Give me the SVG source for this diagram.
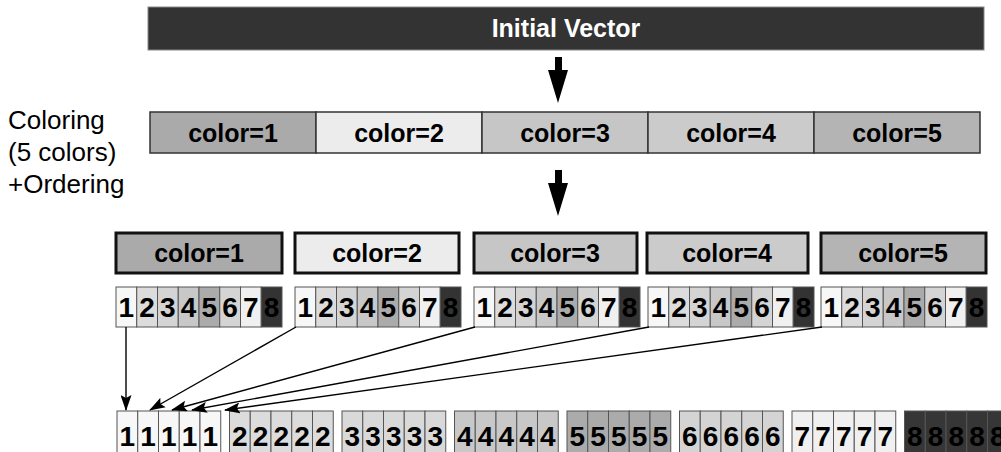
<svg xmlns="http://www.w3.org/2000/svg" width="1001" height="452" viewBox="0 0 1001 452">
<defs>
<marker id="ah" markerUnits="userSpaceOnUse" markerWidth="16" markerHeight="11" refX="15" refY="5.5" orient="auto"><path d="M0,0 L16,5.5 L0,11 L3,5.5 z" fill="#000"/></marker>
<style>
.t{font-family:"Liberation Sans",Arial,sans-serif;font-weight:bold;text-anchor:middle}
.lab{font-family:"Liberation Sans",Arial,sans-serif;font-size:26px}
.seg{stroke:#333;stroke-width:1.5}
.box{stroke:#111;stroke-width:3}
.c{stroke:#555;stroke-width:1}
.d{font-family:"Liberation Sans",Arial,sans-serif;font-weight:bold;font-size:28px;text-anchor:middle}
.conn{stroke:#000;stroke-width:1.4;fill:none;marker-end:url(#ah)}
</style>
</defs>
<rect width="1001" height="452" fill="#fff"/>
<g id="initial-vector">
<rect x="148" y="7" width="836" height="43" fill="#333" stroke="#888" stroke-width="1"/>
<text class="t" x="566" y="37" font-size="25" fill="#fff">Initial Vector</text>
</g>
<g id="big-arrows">
<path d="M555,57 h7 v13 h6 l-10,33 l-10,-33 h7 z" fill="#000"/>
<path d="M555,170 h7 v13 h6 l-10,33 l-10,-33 h7 z" fill="#000"/>
</g>
<g id="label">
<text class="lab" x="8" y="129">Coloring</text>
<text class="lab" x="8" y="161">(5 colors)</text>
<text class="lab" x="8" y="193">+Ordering</text>
</g>
<g id="color-row">
<rect class="seg" x="150" y="112" width="166" height="41" fill="#aaa"/>
<rect class="seg" x="316" y="112" width="166" height="41" fill="#ececec"/>
<rect class="seg" x="482" y="112" width="166" height="41" fill="#c6c6c6"/>
<rect class="seg" x="648" y="112" width="166" height="41" fill="#cbcbcb"/>
<rect class="seg" x="814" y="112" width="166" height="41" fill="#b4b4b4"/>
<g class="t" font-size="25">
<text x="233" y="142">color=1</text>
<text x="399" y="142">color=2</text>
<text x="565" y="142">color=3</text>
<text x="731" y="142">color=4</text>
<text x="897" y="142">color=5</text>
</g>
</g>
<g id="box1"><rect class="box" x="116" y="233" width="166" height="40" fill="#aaa"/><text class="t" x="199" y="262" font-size="25">color=1</text></g>
<g id="box2"><rect class="box" x="295" y="233" width="164" height="40" fill="#ececec"/><text class="t" x="377" y="262" font-size="25">color=2</text></g>
<g id="box3"><rect class="box" x="474" y="233" width="163" height="40" fill="#c6c6c6"/><text class="t" x="555" y="262" font-size="25">color=3</text></g>
<g id="box4"><rect class="box" x="647" y="233" width="161" height="40" fill="#cbcbcb"/><text class="t" x="727" y="262" font-size="25">color=4</text></g>
<g id="box5"><rect class="box" x="821" y="233" width="165" height="40" fill="#b4b4b4"/><text class="t" x="903" y="262" font-size="25">color=5</text></g>
<defs>
<g id="cells8">
<rect class="c" x="0" y="0" width="20.75" height="40" fill="#f7f7f7"/>
<rect class="c" x="20.75" y="0" width="20.75" height="40" fill="#dcdcdc"/>
<rect class="c" x="41.5" y="0" width="20.75" height="40" fill="#d4d4d4"/>
<rect class="c" x="62.25" y="0" width="20.75" height="40" fill="#c8c8c8"/>
<rect class="c" x="83" y="0" width="20.75" height="40" fill="#ababab"/>
<rect class="c" x="103.75" y="0" width="20.75" height="40" fill="#d4d4d4"/>
<rect class="c" x="124.5" y="0" width="20.75" height="40" fill="#f0f0f0"/>
<rect class="c" x="145.25" y="0" width="20.75" height="40" fill="#333"/>
<text class="d" x="10.4" y="30">1</text>
<text class="d" x="31.1" y="30">2</text>
<text class="d" x="51.9" y="30">3</text>
<text class="d" x="72.6" y="30">4</text>
<text class="d" x="93.4" y="30">5</text>
<text class="d" x="114.1" y="30">6</text>
<text class="d" x="134.9" y="30">7</text>
<text class="d" x="155.6" y="30">8</text>
</g>
</defs>
<g id="cells1"><use href="#cells8" x="116" y="287"/></g>
<g id="cells2"><use href="#cells8" x="295" y="287"/></g>
<g id="cells3"><use href="#cells8" x="474" y="287"/></g>
<g id="cells4"><use href="#cells8" x="648" y="287"/></g>
<g id="cells5"><use href="#cells8" x="821" y="287"/></g>
<g id="result">
<g transform="translate(117,411)" fill="#f7f7f7"><rect class="c" x="0" width="20.75" height="45"/><rect class="c" x="20.75" width="20.75" height="45"/><rect class="c" x="41.5" width="20.75" height="45"/><rect class="c" x="62.25" width="20.75" height="45"/><rect class="c" x="83" width="20.75" height="45"/></g>
<g transform="translate(229.5,411)" fill="#dcdcdc"><rect class="c" x="0" width="20.75" height="45"/><rect class="c" x="20.75" width="20.75" height="45"/><rect class="c" x="41.5" width="20.75" height="45"/><rect class="c" x="62.25" width="20.75" height="45"/><rect class="c" x="83" width="20.75" height="45"/></g>
<g transform="translate(342,411)" fill="#d9d9d9"><rect class="c" x="0" width="20.75" height="45"/><rect class="c" x="20.75" width="20.75" height="45"/><rect class="c" x="41.5" width="20.75" height="45"/><rect class="c" x="62.25" width="20.75" height="45"/><rect class="c" x="83" width="20.75" height="45"/></g>
<g transform="translate(454.5,411)" fill="#c8c8c8"><rect class="c" x="0" width="20.75" height="45"/><rect class="c" x="20.75" width="20.75" height="45"/><rect class="c" x="41.5" width="20.75" height="45"/><rect class="c" x="62.25" width="20.75" height="45"/><rect class="c" x="83" width="20.75" height="45"/></g>
<g transform="translate(567,411)" fill="#ababab"><rect class="c" x="0" width="20.75" height="45"/><rect class="c" x="20.75" width="20.75" height="45"/><rect class="c" x="41.5" width="20.75" height="45"/><rect class="c" x="62.25" width="20.75" height="45"/><rect class="c" x="83" width="20.75" height="45"/></g>
<g transform="translate(679.5,411)" fill="#d4d4d4"><rect class="c" x="0" width="20.75" height="45"/><rect class="c" x="20.75" width="20.75" height="45"/><rect class="c" x="41.5" width="20.75" height="45"/><rect class="c" x="62.25" width="20.75" height="45"/><rect class="c" x="83" width="20.75" height="45"/></g>
<g transform="translate(792,411)" fill="#f0f0f0"><rect class="c" x="0" width="20.75" height="45"/><rect class="c" x="20.75" width="20.75" height="45"/><rect class="c" x="41.5" width="20.75" height="45"/><rect class="c" x="62.25" width="20.75" height="45"/><rect class="c" x="83" width="20.75" height="45"/></g>
<g transform="translate(904.5,411)" fill="#363636"><rect class="c" x="0" width="20.75" height="45"/><rect class="c" x="20.75" width="20.75" height="45"/><rect class="c" x="41.5" width="20.75" height="45"/><rect class="c" x="62.25" width="20.75" height="45"/><rect class="c" x="83" width="20.75" height="45"/></g>
<g class="d">
<text x="127.4" y="446">1</text><text x="148.1" y="446">1</text><text x="168.9" y="446">1</text><text x="189.6" y="446">1</text><text x="210.4" y="446">1</text>
<text x="239.9" y="446">2</text><text x="260.6" y="446">2</text><text x="281.4" y="446">2</text><text x="302.1" y="446">2</text><text x="322.9" y="446">2</text>
<text x="352.4" y="446">3</text><text x="373.1" y="446">3</text><text x="393.9" y="446">3</text><text x="414.6" y="446">3</text><text x="435.4" y="446">3</text>
<text x="464.9" y="446">4</text><text x="485.6" y="446">4</text><text x="506.4" y="446">4</text><text x="527.1" y="446">4</text><text x="547.9" y="446">4</text>
<text x="577.4" y="446">5</text><text x="598.1" y="446">5</text><text x="618.9" y="446">5</text><text x="639.6" y="446">5</text><text x="660.4" y="446">5</text>
<text x="689.9" y="446">6</text><text x="710.6" y="446">6</text><text x="731.4" y="446">6</text><text x="752.1" y="446">6</text><text x="772.9" y="446">6</text>
<text x="802.4" y="446">7</text><text x="823.1" y="446">7</text><text x="843.9" y="446">7</text><text x="864.6" y="446">7</text><text x="885.4" y="446">7</text>
<text x="914.9" y="446">8</text><text x="935.6" y="446">8</text><text x="956.4" y="446">8</text><text x="977.1" y="446">8</text><text x="997.9" y="446">8</text>
</g>
</g>
<g id="connectors">
<path class="conn" d="M126,327 L126,410"/>
<path class="conn" d="M296,327 L150,410"/>
<path class="conn" d="M475,327 L172,410"/>
<path class="conn" d="M649,327 L192,410"/>
<path class="conn" d="M822,327 L225,410"/>
</g>
</svg>
